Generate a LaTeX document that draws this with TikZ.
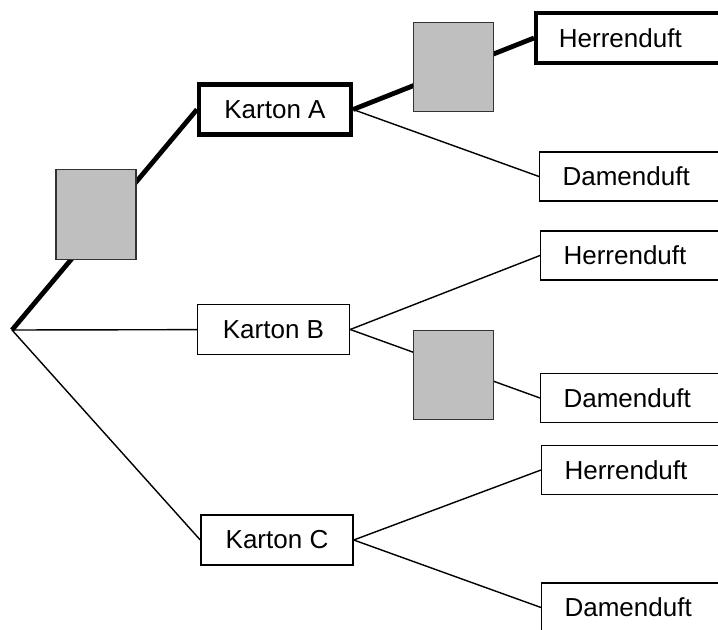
\documentclass[tikz,border=0pt]{standalone}
\usepackage{fontspec}
\setmainfont{Liberation Sans}
\usetikzlibrary{positioning}

\begin{document}
\begin{tikzpicture}[
  x=0.025cm, y=-0.025cm,
  karton/.style={draw, line width=1pt, minimum width=3.8cm, minimum height=1.25cm, inner sep=0pt, font=\fontsize{18.5}{22}\selectfont},
  duft/.style={draw, line width=1pt, anchor=west, text width=4cm, inner xsep=0.57cm, minimum height=1.23cm, align=left, font=\fontsize{18.5}{22}\selectfont},
  gewaehlt/.style={line width=2.9pt},
  grau/.style={draw, line width=0.8pt, draw=black!80, fill=black!25, minimum width=2cm, minimum height=2.23cm, inner sep=0pt},
  zweig/.style={line width=1pt},
  pfad/.style={line width=3.4pt}
]
\useasboundingbox (0,0) rectangle (718,630);
\clip (0,0) rectangle (718,630);

% Kartons
\coordinate (wurzel) at (12,330);
\node[karton, gewaehlt] (kA) at (275,109.5) {Karton A};
\node[karton] (kB) at (273.5,329.5) {Karton B};
\node[karton] (kC) at (277,540) {Karton C};

% Duefte
\node[duft, gewaehlt] (h1) at (534,38) {Herrenduft};
\node[duft] (d1) at (539,176.5) {Damenduft};
\node[duft] (h2) at (540,255.5) {Herrenduft};
\node[duft] (d2) at (540,398) {Damenduft};
\node[duft] (h3) at (541,470) {Herrenduft};
\node[duft] (d3) at (541,607.5) {Damenduft};

% Zweige
\draw[pfad] (wurzel) -- (kA.west);
\draw[zweig] (wurzel) -- (kB);
\draw[zweig] (wurzel) -- (kC.west);
\draw[pfad] (kA.east) -- (h1.west);
\draw[zweig] (kA.east) -- (d1.west);
\draw[zweig] (kB.east) -- (h2.west);
\draw[zweig] (kB.east) -- (d2.west);
\draw[zweig] (kC.east) -- (h3.west);
\draw[zweig] (kC.east) -- (d3.west);

% graue Felder
\node[grau] (g1) at (96,214.5) {};
\node[grau] (g2) at (453.5,67) {};
\node[grau] (g3) at (453.5,375) {};

\end{tikzpicture}
\end{document}
